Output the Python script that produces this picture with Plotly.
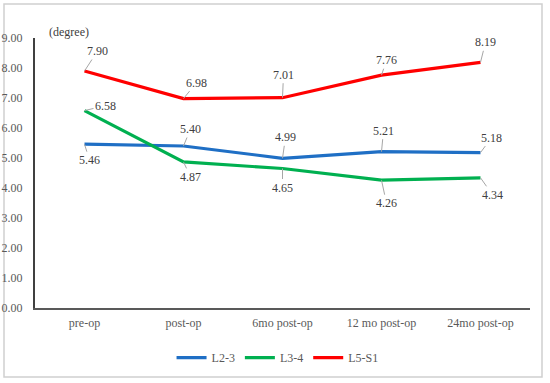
import plotly.graph_objects as go

categories = ["pre-op", "post-op", "6mo post-op", "12 mo post-op", "24mo post-op"]
l23 = [5.46, 5.40, 4.99, 5.21, 5.18]
l34 = [6.58, 4.87, 4.65, 4.26, 4.34]
l5s1 = [7.90, 6.98, 7.01, 7.76, 8.19]
y_ticks = [0, 1, 2, 3, 4, 5, 6, 7, 8, 9]

series = [
    ("L2-3", l23, "#1f6fc5", [(5, 16), (7, -17), (3, -21), (2, -21), (11, -15)]),
    ("L3-4", l34, "#00b050", [(21, -5), (7, 15), (0, 19), (5, 23), (12, 17)]),
    ("L5-S1", l5s1, "#ff0000", [(13, -20), (13, -16), (1, -23), (5, -15), (5, -20)]),
]

FONT = "Times New Roman, Liberation Serif, serif"

W, H = 550, 383
ML, MR, MT, MB = 35, 20, 38, 75
PW, PH = W - ML - MR, H - MT - MB

def px2paper(px, py):
    return (px - ML) / PW, (H - MB - py) / PH

fig = go.Figure()
annotations = []
for name, vals, color, offs in series:
    fig.add_trace(go.Scatter(x=categories, y=vals, mode="lines", name=name,
                             line=dict(color=color, width=3.2)))
    for c, v, (dx, dy) in zip(categories, vals, offs):
        annotations.append(dict(x=c, y=v, xref="x", yref="y", text=f"{v:.2f}",
                                showarrow=True, arrowhead=0, arrowwidth=1,
                                arrowcolor="#a6a6a6", ax=dx, ay=dy, standoff=0,
                                font=dict(family=FONT, size=12, color="#404040")))

tx, ty = px2paper(47, 23)
annotations.append(dict(x=tx, y=ty, xref="paper", yref="paper", text="(degree)",
                        showarrow=False, font=dict(family=FONT, size=12, color="#404040")))

x0, y0 = px2paper(4, 377)
x1, y1 = px2paper(542, 4)
fig.add_shape(type="rect", xref="paper", yref="paper", x0=x0, y0=y0, x1=x1, y1=y1,
              line=dict(color="#d0d0d0", width=1.5), layer="below")

fig.update_layout(
    width=W, height=H, margin=dict(l=ML, r=MR, t=MT, b=MB, autoexpand=False),
    paper_bgcolor="white", plot_bgcolor="white",
    font=dict(family=FONT, size=12, color="#595959"),
    annotations=annotations,
    showlegend=True,
    legend=dict(orientation="h", x=0.49, xanchor="center", y=-0.13, yanchor="top",
                font=dict(family=FONT, size=12, color="#595959"),
                itemwidth=30, tracegroupgap=0),
    xaxis=dict(type="category", range=[-0.5, 4.5], showgrid=False, showline=True,
               linecolor="#595959", linewidth=2, ticks="", ticklabelstandoff=3,
               automargin=False,
               tickfont=dict(family=FONT, size=12, color="#595959")),
    yaxis=dict(range=[0, 9], tickvals=y_ticks, tickformat=".2f", showgrid=False,
               showline=True, linecolor="#404040", linewidth=2, ticks="",
               ticklabelstandoff=8, zeroline=False, automargin=False,
               tickfont=dict(family=FONT, size=12, color="#595959")),
)

fig.write_html("out.html", config={"displayModeBar": False},
               post_script="document.body.style.margin='0px';")
